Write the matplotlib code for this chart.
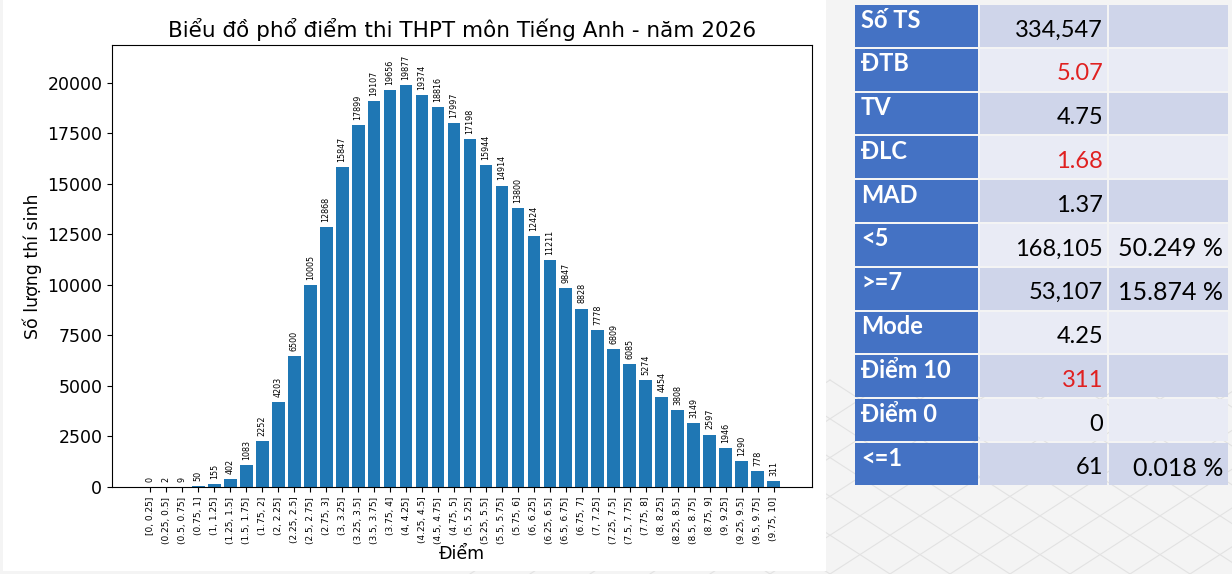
import matplotlib
matplotlib.use("Agg")
import matplotlib.pyplot as plt
from matplotlib.patches import Rectangle

# score bins and number of candidates per bin
bins = ["[0, 0.25]"] + ["(%g, %g]" % (i * 0.25, (i + 1) * 0.25) for i in range(1, 40)]
counts = [0, 2, 9, 50, 155, 402, 1083, 2252, 4203, 6500,
          10005, 12868, 15847, 17899, 19107, 19656, 19877, 19374, 18816, 17997,
          17198, 15944, 14914, 13800, 12424, 11211, 9847, 8828, 7778, 6809,
          6085, 5274, 4454, 3808, 3149, 2597, 1946, 1290, 778, 311]

# summary table
stat_names = ["Số TS", "ĐTB", "TV", "ĐLC", "MAD", "<5", ">=7", "Mode",
              "Điểm 10", "Điểm 0", "<=1"]
stat_values = ["334,547", "5.07", "4.75", "1.68", "1.37", "168,105", "53,107",
               "4.25", "311", "0", "61"]
stat_pcts = ["", "", "", "", "", "50.249 %", "15.874 %", "", "", "", "0.018 %"]
red_rows = ["ĐTB", "ĐLC", "Điểm 10"]

W, H = 1232, 574
fig = plt.figure(figsize=(W / 100, H / 100), dpi=100, facecolor="#f4f4f4")

# faint background lines on the right side
bg = fig.add_axes([0, 0, 1, 1], zorder=-5)
bg.set_xlim(0, W)
bg.set_ylim(H, 0)
bg.axis("off")
for k in range(-6, 14):
    x0 = 830 + k * 60
    bg.plot([x0, x0 + 300], [H, 380], color="#e2e2e2", lw=0.8)
    bg.plot([x0, x0 + 300], [380, H], color="#e2e2e2", lw=0.8)
bg.add_patch(Rectangle((3, 0), 823, 571, facecolor="white", edgecolor="none", zorder=3))

ax = fig.add_axes([112 / W, 1 - 487 / H, 700 / W, 442 / H])
x = list(range(len(bins)))
bars = ax.bar(x, counts, width=0.8, color="#1f77b4")
for b, c in zip(bars, counts):
    ax.text(b.get_x() + b.get_width() / 2, b.get_height() + 250, str(c),
            rotation=90, ha="center", va="bottom", fontsize=5.8)

ax.set_xticks(x)
ax.set_xticklabels(bins, rotation=90, fontsize=6.5)
ax.set_xlim(-2.4, len(bins) - 1 + 2.4)
ax.set_ylim(0, max(counts) * 1.1)
ax.set_yticks(range(0, 20001, 2500))
ax.tick_params(axis="y", labelsize=12.5)
ax.set_title("Biểu đồ phổ điểm thi THPT môn Tiếng Anh - năm 2026", fontsize=15.5)
ax.set_ylabel("Số lượng thí sinh", fontsize=12.5)
ax.set_xlabel("Điểm", fontsize=12.5, labelpad=1)

# table on the right
tb = fig.add_axes([0, 0, 1, 1], zorder=5)
tb.set_xlim(0, W)
tb.set_ylim(H, 0)
tb.axis("off")
top, row_h = 5, 43.8
cols = [(855, 978), (980, 1107), (1109, 1228)]
light, lighter = "#cfd5ea", "#e9ebf5"
for i, name in enumerate(stat_names):
    y0 = top + i * row_h
    fill = light if i % 2 == 0 else lighter
    tb.add_patch(Rectangle((cols[0][0], y0), cols[0][1] - cols[0][0], row_h - 2,
                           facecolor="#4472c4", edgecolor="none"))
    for c0, c1 in cols[1:]:
        tb.add_patch(Rectangle((c0, y0), c1 - c0, row_h - 2, facecolor=fill, edgecolor="none"))
    tb.text(cols[0][0] + 6, y0 + 15, name, color="white", fontsize=17,
            fontweight="bold", family="Lato", ha="left", va="center")
    tb.text(cols[1][1] - 4, y0 + 25, stat_values[i], fontsize=17, family="Lato",
            color="#e02020" if name in red_rows else "black", ha="right", va="center")
    if stat_pcts[i]:
        tb.text(cols[2][1] - 5, y0 + 25, stat_pcts[i], fontsize=18, family="Lato",
                color="black", ha="right", va="center")

fig.savefig("out.png", dpi=100, facecolor=fig.get_facecolor())
